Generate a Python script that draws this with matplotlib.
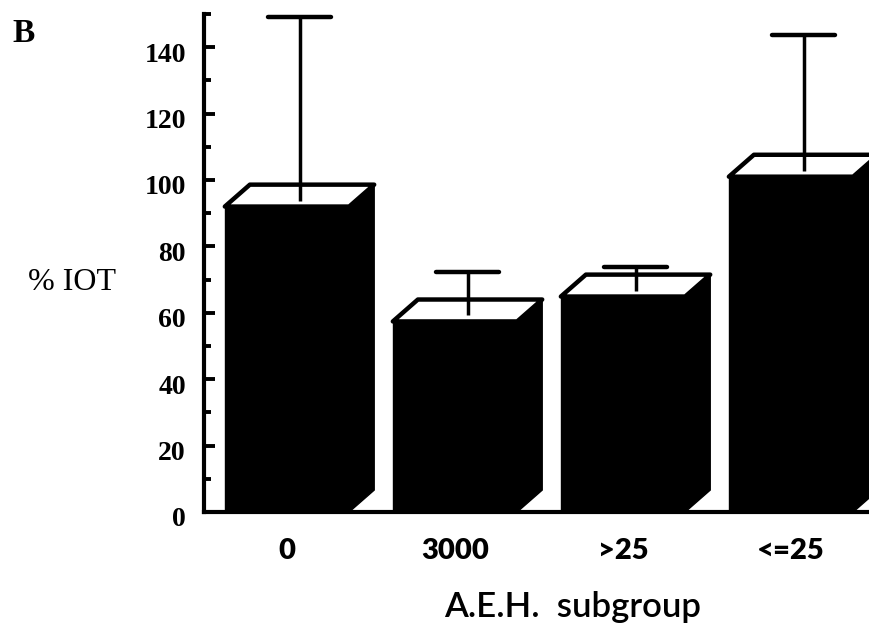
import numpy as np
import matplotlib
matplotlib.use("Agg")
import matplotlib.pyplot as plt
from matplotlib.patches import Polygon
from matplotlib.transforms import ScaledTranslation

# data (% IOT per A.E.H. subgroup)
groups = ["0", "3000", ">25", "<=25"]
means = [95.3, 60.7, 68.2, 104.3]
err_up = [53.7, 11.6, 5.6, 39.4]

y_major = [0, 20, 40, 60, 80, 100, 120, 140]
y_minor = [10, 30, 50, 70, 90, 110, 130, 150]

# 3-D look of the bars
bar_w = 0.74
depth_x = 0.149
depth_y = 6.6
cap_w = 0.375

fig = plt.figure(figsize=(8.69, 6.35), dpi=100)
ax = fig.add_axes([204 / 869, 123 / 635, 665 / 869, 498 / 635])

x = np.arange(len(groups))
means = np.array(means)
tops = means + np.array(err_up)
front = means - depth_y / 2

# front faces
ax.bar(x, front, width=bar_w, color="black", edgecolor="black", lw=1, zorder=2)

for xi, h in zip(x, front):
    xl = xi - bar_w / 2
    xr = xi + bar_w / 2
    side = Polygon([(xr - 0.01, 0), (xr, 0), (xr + depth_x, depth_y), (xr + depth_x, h + depth_y),
                    (xr - 0.01, h)],
                   closed=True, facecolor="black", edgecolor="black", lw=1, zorder=2)
    ax.add_patch(side)
    top = Polygon([(xl, h), (xl + depth_x, h + depth_y), (xr + depth_x, h + depth_y), (xr, h)],
                  closed=True, facecolor="white", edgecolor="black", lw=3.2,
                  joinstyle="round", zorder=3)
    ax.add_patch(top)

# error bars go up from the centre of the top face, cap only at the top
ex = x + depth_x / 2
ax.vlines(ex, means - 1.5, tops, color="black", lw=2.5, zorder=4, clip_on=False)
ax.hlines(tops, ex - cap_w / 2, ex + cap_w / 2, color="black", lw=3.2, zorder=4,
          clip_on=False, capstyle="round")

ax.set_xlim(-0.494, 3.464)
ax.set_ylim(0, 150)

for s in ["top", "right"]:
    ax.spines[s].set_visible(False)
ax.spines["left"].set_linewidth(3)
ax.spines["bottom"].set_linewidth(3)

ax.set_yticks(y_major)
ax.set_yticks(y_minor, minor=True)
ax.tick_params(axis="y", which="major", direction="in", length=8, width=2.8, pad=13)
ax.tick_params(axis="y", which="minor", direction="in", length=5, width=2.8)
ax.set_yticklabels([str(v) for v in y_major], fontfamily="Liberation Serif",
                   fontweight="bold", fontsize=20)
offset = ScaledTranslation(0, -5 / 100, fig.dpi_scale_trans)
for lab in ax.get_yticklabels():
    lab.set_transform(lab.get_transform() + offset)

ax.set_xticks(x)
ax.set_xticklabels(groups, fontfamily="Lato", fontweight="heavy", fontsize=21)
ax.tick_params(axis="x", length=0, pad=19)

fig.text(72 / 869, 1 - 283 / 635, "% IOT", fontfamily="Liberation Serif",
         fontsize=23, ha="center", va="center")
fig.text(573 / 869, 1 - 607 / 635, "A.E.H.  subgroup", fontfamily="Lato",
         fontweight="semibold", fontsize=25, ha="center", va="center")
fig.text(12 / 869, 1 - 33 / 635, "B", fontfamily="Liberation Serif",
         fontweight="bold", fontsize=24, ha="left", va="center")

fig.savefig("out.png", dpi=100)
